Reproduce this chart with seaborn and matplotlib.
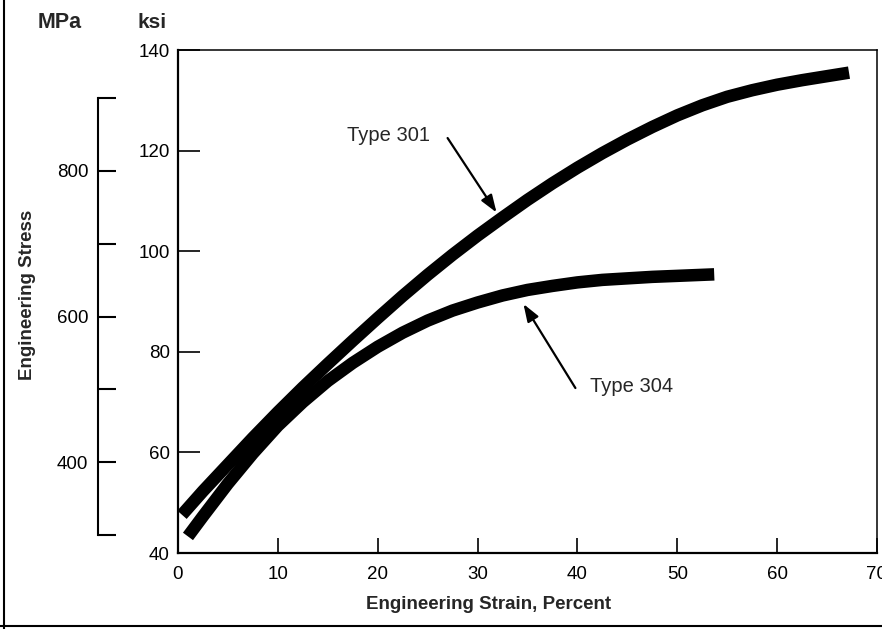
import pandas as pd
import matplotlib.pyplot as plt
import seaborn as sns
from matplotlib.lines import Line2D

# values (strain in %, stress in ksi)
strain_301 = [0.4, 2.5, 5, 7.5, 10, 12.5, 15, 17.5, 20, 22.5, 25, 27.5, 30, 32.5, 35,
              37.5, 40, 42.5, 45, 47.5, 50, 52.5, 55, 57.5, 60, 62.5, 65, 67.2]
stress_301 = [47.6, 52.3, 57.6, 62.9, 68.0, 72.9, 77.6, 82.2, 86.7, 91.1, 95.3, 99.3, 103.1, 106.7, 110.2,
              113.5, 116.6, 119.5, 122.2, 124.7, 127.0, 129.0, 130.7, 132.0, 133.1, 134.0, 134.8, 135.5]
strain_304 = [1.0, 2.5, 5, 7.5, 10, 12.5, 15, 17.5, 20, 22.5, 25, 27.5, 30, 32.5, 35,
              37.5, 40, 42.5, 45, 47.5, 50, 53.7]
stress_304 = [43.3, 47.3, 53.8, 59.8, 65.3, 70.0, 74.2, 77.8, 81.0, 83.8, 86.2, 88.2, 89.8, 91.2, 92.3,
              93.1, 93.8, 94.3, 94.6, 94.9, 95.1, 95.4]

strain_ticks = [0, 10, 20, 30, 40, 50, 60, 70]
ksi_ticks = [40, 60, 80, 100, 120, 140]
mpa_ticks = [300, 400, 500, 600, 700, 800, 900]
mpa_labels = ["", "400", "", "600", "", "800", ""]

df = pd.concat([
    pd.DataFrame({"strain": strain_301, "stress": stress_301, "type": "Type 301"}),
    pd.DataFrame({"strain": strain_304, "stress": stress_304, "type": "Type 304"}),
])

sns.set_theme(style="ticks")
plt.rcParams["font.family"] = ["Liberation Sans", "DejaVu Sans"]

fig = plt.figure(figsize=(8.82, 6.29), dpi=100)
ax = fig.add_axes([0.2018, 0.1208, 0.7925, 0.7997])

sns.lineplot(data=df, x="strain", y="stress", hue="type",
             palette={"Type 301": "black", "Type 304": "black"},
             estimator=None, sort=False, lw=9, legend=False, ax=ax,
             solid_capstyle="butt", solid_joinstyle="round")

ax.set_xlim(0, 70)
ax.set_ylim(40, 140)
ax.set_xticks(strain_ticks)
ax.set_yticks(ksi_ticks)
ax.tick_params(axis="x", direction="in", length=11, width=1.2, labelsize=13.5, pad=9, colors="black")
ax.tick_params(axis="y", direction="in", length=16, width=1.2, labelsize=13.5, pad=6, colors="black")
for side in ["left", "bottom"]:
    ax.spines[side].set_linewidth(1.6)
for side in ["top", "right"]:
    ax.spines[side].set_linewidth(1.1)
for s in ax.spines.values():
    s.set_color("black")

# MPa scale on the left
sec = ax.secondary_yaxis(-0.1145, functions=(lambda k: k * 6.895, lambda m: m / 6.895))
sec.set_yticks(mpa_ticks, labels=mpa_labels)
sec.spines["left"].set_bounds(300, 900)
sec.spines["left"].set_linewidth(1.5)
sec.spines["left"].set_color("black")
sec.tick_params(direction="in", length=13, width=1.5, labelsize=13.5, pad=7, colors="black")

ax.set_xlabel("Engineering Strain, Percent", fontsize=13.5, fontweight="bold")
ax.xaxis.set_label_coords(0.445, -0.103)
ax.xaxis.label.set_va("center")
ax.set_ylabel("Engineering Stress", fontsize=13.5, fontweight="bold")
ax.yaxis.set_label_coords(-0.216, 0.513)
ax.yaxis.label.set_va("center")

fig.text(60 / 882, 1 - 23 / 629, "MPa", fontsize=15.5, fontweight="bold", ha="center", va="center")
fig.text(152 / 882, 1 - 23 / 629, "ksi", fontsize=15, fontweight="bold", ha="center", va="center")

# curve labels with arrows
ax.text(21.1, 123.1, "Type 301", fontsize=14.5, ha="center", va="center")
ax.annotate("", xy=(31.9, 107.7), xytext=(27.0, 122.5),
            arrowprops=dict(arrowstyle="-|>,head_length=0.7,head_width=0.25",
                            color="black", lw=1.6, mutation_scale=15, shrinkA=0, shrinkB=0))
ax.text(45.4, 73.2, "Type 304", fontsize=14.5, ha="center", va="center")
ax.annotate("", xy=(34.6, 89.5), xytext=(39.8, 72.8),
            arrowprops=dict(arrowstyle="-|>,head_length=0.7,head_width=0.25",
                            color="black", lw=1.6, mutation_scale=15, shrinkA=0, shrinkB=0))

# page frame (left and bottom edges)
fig.add_artist(Line2D([4 / 882, 4 / 882], [0, 1], color="black", lw=1.5, transform=fig.transFigure))
fig.add_artist(Line2D([0, 1], [1 - 626 / 629, 1 - 626 / 629], color="black", lw=1.5, transform=fig.transFigure))

fig.savefig("out.png", dpi=100)
